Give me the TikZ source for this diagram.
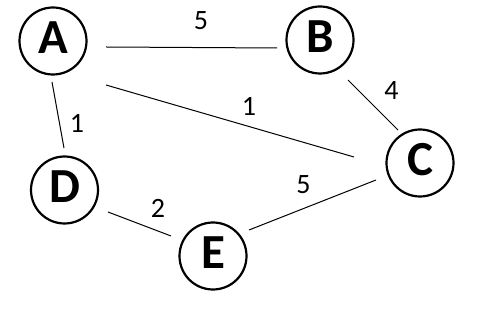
\documentclass[tikz,border=0pt]{standalone}
\usepackage{fontspec}
\setmainfont{Carlito}
\usetikzlibrary{calc}
\begin{document}
\begin{tikzpicture}[x=1pt,y=1pt,
  vertex/.style={circle,draw,line width=2.2pt,minimum size=67pt,inner sep=0pt,
    font=\fontsize{49}{52}\selectfont\bfseries,text depth=7pt},
  edge/.style={line width=1pt},
  wlabel/.style={inner sep=0pt,font=\fontsize{28}{32}\selectfont}]
\useasboundingbox (0,0) rectangle (486,318);
\node[vertex] (A) at (53,277) {A};
\node[vertex] (B) at (320,278) {B};
\node[vertex] (C) at (420,155) {C};
\node[vertex] (D) at (64.5,128) {D};
\node[vertex] (E) at (213,62) {E};
\draw[edge] ($(A)+(53,-6)$) -- ($(B)+(-43,-8)$);
\draw[edge] ($(A)+(53,-44)$) -- ($(C)+(-66,6)$);
\draw[edge] ($(A)+(-1,-41)$) -- ($(D)+(-0.5,42)$);
\draw[edge] ($(B)+(28,-40)$) -- ($(C)+(-22,33)$);
\draw[edge] ($(D)+(43.5,-22)$) -- ($(E)+(-42,20)$);
\draw[edge] ($(E)+(36,26)$) -- ($(C)+(-44,-17)$);
\node[wlabel] (lab) at (201,297) {5};
\node[wlabel] (lac) at (249,211.5) {1};
\node[wlabel] (lad) at (77,194.5) {1};
\node[wlabel] (lbc) at (391.5,227.5) {4};
\node[wlabel] (lde) at (158,110) {2};
\node[wlabel] (lec) at (303.5,133.5) {5};
\end{tikzpicture}
\end{document}
